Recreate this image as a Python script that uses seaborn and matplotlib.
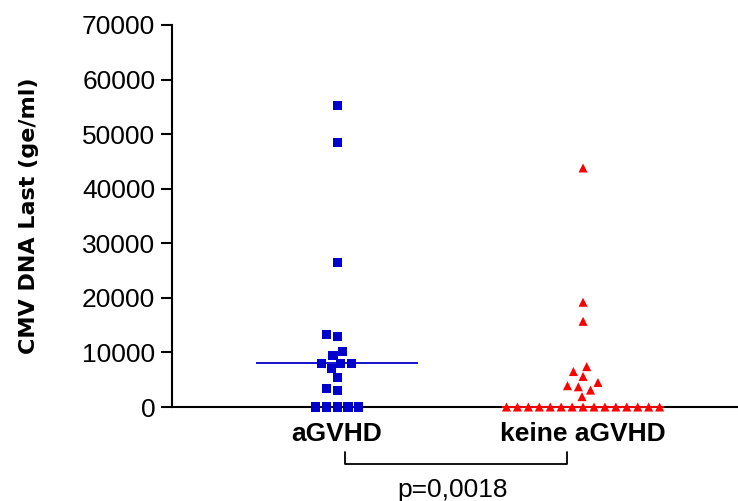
import matplotlib.pyplot as plt
import numpy as np
import pandas as pd
import seaborn as sns
from matplotlib.transforms import blended_transform_factory

# values
groups = ['aGVHD', 'keine aGVHD']
agvhd_values = [55300, 48400, 26500, 13200, 13000, 10200, 9400, 8000, 8000, 8000,
                7000, 5400, 3400, 3000, 0, 0, 0, 0, 0]
keine_values = [43800, 19200, 15700, 7400, 6500, 5600, 4500, 3900, 3700, 3100,
                1900, 0, 0, 0, 0, 0, 0, 0, 0, 0, 0, 0, 0, 0, 0, 0]
group_colors = ['#0000CC', '#FF0000']
group_markers = ['s', '^']
y_ticks = [0, 10000, 20000, 30000, 40000, 50000, 60000, 70000]
y_label = 'CMV DNA Last (ge/ml)'
p_label = 'p=0,0018'


def build_frame() -> pd.DataFrame:
    return pd.DataFrame({
        'group': [groups[0]] * len(agvhd_values) + [groups[1]] * len(keine_values),
        'load': agvhd_values + keine_values,
    })


def create_plot(data: pd.DataFrame) -> None:
    sns.set_style('ticks')
    plt.rcParams['font.family'] = ['Liberation Sans', 'DejaVu Sans']

    fig = plt.figure(figsize=(7.38, 5.01), dpi=100)
    ax = fig.add_axes([0.2331, 0.1876, 0.7669, 0.7625])

    for i, grp in enumerate(groups):
        sub = data[data['group'] == grp]
        sns.swarmplot(data=sub, x='group', y='load', order=groups, ax=ax,
                      color=group_colors[i], marker=group_markers[i], size=6.5,
                      linewidth=1.0, edgecolor='none', zorder=3)
        med = np.median(sub['load'])
        ax.hlines(med, i - 0.33, i + 0.33, color=group_colors[i],
                  linewidth=1.3, zorder=2.8 if i == 0 else 3.2, clip_on=False)

    # let the zero points sit on top of the axis line
    for coll in ax.collections:
        if len(coll.get_offsets()) > 0:
            coll.set_clip_on(False)

    ax.set_xlim(-0.671, 1.63)
    ax.set_ylim(0, 70000)
    ax.set_yticks(y_ticks)
    ax.tick_params(axis='y', labelsize=19, length=8, width=1.5, pad=4,
                   color='black', labelcolor='black')
    ax.tick_params(axis='x', labelsize=19, length=0, pad=11, labelcolor='black')
    for lbl in ax.get_xticklabels():
        lbl.set_fontweight('bold')

    ax.set_xlabel('')
    ax.set_ylabel(y_label, fontsize=16, fontweight='bold', family='DejaVu Sans',
                  color='black')
    ax.yaxis.set_label_coords(-0.235, 0.5)

    sns.despine(ax=ax)
    for side in ['left', 'bottom']:
        ax.spines[side].set_linewidth(1.5)
        ax.spines[side].set_color('black')

    # significance bracket below the axis
    trans = blended_transform_factory(ax.transData, ax.transAxes)
    ax.plot([0.033, 0.033, 0.935, 0.935], [-0.118, -0.149, -0.149, -0.118],
            color='black', linewidth=1.3, transform=trans, clip_on=False)
    ax.text(0.468, -0.217, p_label, transform=trans, ha='center', va='center',
            fontsize=19, color='black')

    fig.savefig('out.png', dpi=100)


def main():
    data = build_frame()
    create_plot(data)


if __name__ == '__main__':
    main()
